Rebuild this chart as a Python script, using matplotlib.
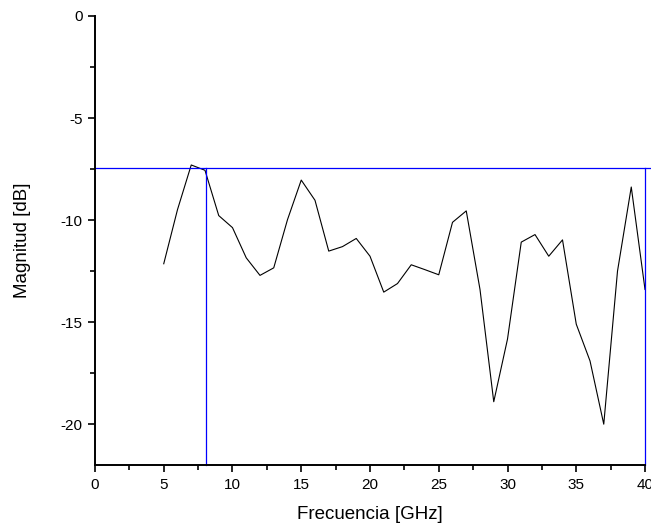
import numpy as np
import matplotlib
matplotlib.use("Agg")
import matplotlib.pyplot as plt

plt.rcParams['font.family'] = ['Liberation Sans', 'DejaVu Sans']
plt.rcParams['axes.unicode_minus'] = False

# -----------------------------
# Data
# -----------------------------

freq = np.arange(5, 41)
magnitud = [-12.14, -9.49, -7.30, -7.56, -9.78, -10.37, -11.85, -12.71, -12.34,
            -9.98, -8.04, -9.03, -11.52, -11.30, -10.90, -11.77, -13.53, -13.11,
            -12.19, -12.43, -12.68, -10.11, -9.55, -13.4, -18.9, -15.83,
            -11.08, -10.71, -11.77, -10.97, -15.1, -16.9, -20.0, -12.5, -8.38, -13.4]

# marker lines
nivel = -7.45
f_corte = [8.1, 40]

x_ticks = [0, 5, 10, 15, 20, 25, 30, 35, 40]
y_ticks = [0, -5, -10, -15, -20]

# -----------------------------
# Plot
# -----------------------------

fig = plt.figure(figsize=(6.51, 5.31), dpi=100)
ax = fig.add_axes([0.1459, 0.1243, 0.8449, 0.8456])

ax.plot(freq, magnitud, color='black', linewidth=0.8)
ax.axhline(nivel, color='blue', linewidth=0.9, clip_on=False, xmax=1.02)
for f in f_corte:
    ax.plot([f, f], [-22, nivel], color='blue', linewidth=0.9, clip_on=False)

ax.set_xlim(0, 40)
ax.set_ylim(-22, 0)
ax.set_xticks(x_ticks)
ax.set_yticks(y_ticks)
ax.set_xticks(np.arange(2.5, 40, 5), minor=True)
ax.set_yticks(np.arange(-17.5, 0, 5), minor=True)
ax.tick_params(which='major', direction='out', length=5, width=1.2, labelsize=11)
ax.tick_params(which='minor', direction='out', length=3.5, width=1.2)
ax.tick_params(axis='x', which='major', pad=4.5)
ax.tick_params(axis='y', which='major', pad=4)

for s in ['top', 'right']:
    ax.spines[s].set_visible(False)
for s in ['left', 'bottom']:
    ax.spines[s].set_linewidth(1.4)

ax.set_xlabel("Frecuencia [GHz]", fontsize=13.5)
ax.set_ylabel("Magnitud [dB]", fontsize=13.5)
ax.xaxis.set_label_coords(0.5, -0.092)
ax.yaxis.set_label_coords(-0.116, 0.5)

fig.savefig("out.png", dpi=100)
